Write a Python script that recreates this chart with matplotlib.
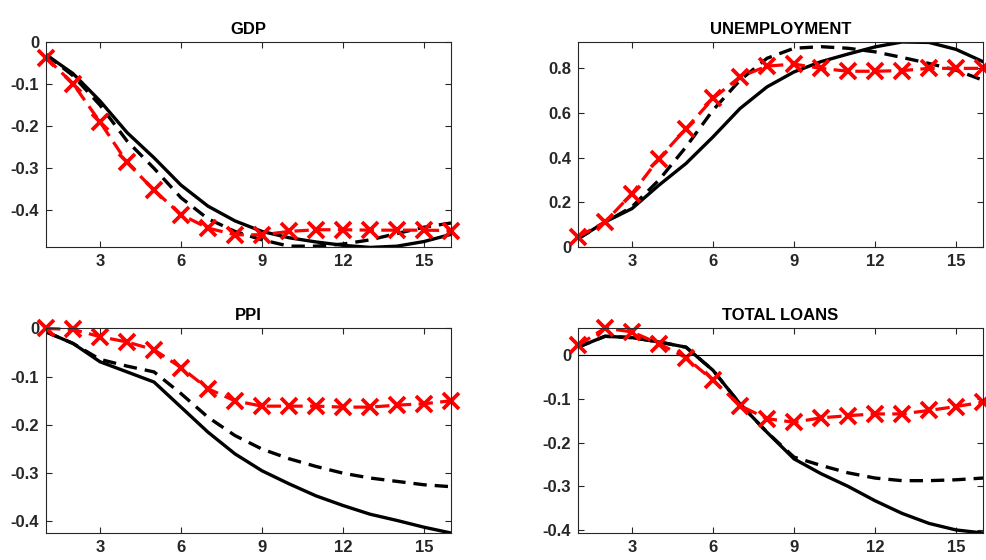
import numpy as np
import matplotlib
matplotlib.use("Agg")
import matplotlib.pyplot as plt

plt.rcParams["font.family"] = ["Liberation Sans", "DejaVu Sans"]
plt.rcParams["font.weight"] = "bold"

# horizonte (trimestres)
horizon = np.arange(1, 17)

titles = ["GDP", "UNEMPLOYMENT", "PPI", "TOTAL LOANS"]

# linha preta continua
gdp_solid = [-0.03, -0.075, -0.14, -0.215, -0.275, -0.34, -0.39, -0.425, -0.45, -0.465,
             -0.475, -0.483, -0.488, -0.485, -0.474, -0.457]
unemp_solid = [0.037, 0.112, 0.172, 0.277, 0.374, 0.493, 0.62, 0.717, 0.784, 0.83,
               0.864, 0.896, 0.918, 0.916, 0.885, 0.83]
ppi_solid = [-0.007, -0.031, -0.069, -0.09, -0.111, -0.163, -0.215, -0.26, -0.295, -0.322,
             -0.347, -0.367, -0.385, -0.398, -0.412, -0.424]
loans_solid = [0.019, 0.044, 0.041, 0.031, 0.019, -0.034, -0.111, -0.176, -0.237, -0.271,
               -0.3, -0.333, -0.362, -0.385, -0.4, -0.407]

# linha preta tracejada
gdp_dash = [-0.03, -0.08, -0.15, -0.235, -0.3, -0.37, -0.42, -0.45, -0.47, -0.485,
            -0.485, -0.48, -0.47, -0.455, -0.44, -0.43]
unemp_dash = [0.037, 0.11, 0.18, 0.3, 0.448, 0.613, 0.747, 0.845, 0.89, 0.897,
              0.89, 0.874, 0.849, 0.822, 0.792, 0.747]
ppi_dash = [-0.007, -0.031, -0.064, -0.078, -0.09, -0.135, -0.184, -0.222, -0.25, -0.27,
            -0.286, -0.3, -0.31, -0.317, -0.324, -0.328]
loans_dash = [0.019, 0.044, 0.041, 0.031, 0.019, -0.034, -0.111, -0.176, -0.233, -0.252,
              -0.269, -0.281, -0.287, -0.287, -0.285, -0.281]

# linha vermelha com marcadores x
gdp_red = [-0.037, -0.099, -0.19, -0.286, -0.352, -0.41, -0.442, -0.458, -0.458, -0.45,
           -0.446, -0.446, -0.447, -0.447, -0.447, -0.448]
unemp_red = [0.045, 0.112, 0.239, 0.396, 0.53, 0.665, 0.762, 0.81, 0.819, 0.8,
             0.787, 0.787, 0.79, 0.8, 0.8, 0.8]
ppi_red = [0.0, -0.002, -0.017, -0.028, -0.044, -0.081, -0.125, -0.15, -0.161, -0.161,
           -0.161, -0.163, -0.163, -0.159, -0.156, -0.15]
loans_red = [0.023, 0.063, 0.054, 0.027, -0.005, -0.057, -0.115, -0.145, -0.153, -0.143,
             -0.138, -0.134, -0.134, -0.126, -0.117, -0.107]

solid = [gdp_solid, unemp_solid, ppi_solid, loans_solid]
dashed = [gdp_dash, unemp_dash, ppi_dash, loans_dash]
red = [gdp_red, unemp_red, ppi_red, loans_red]

ylims = [(-0.487, 0.0), (0.0, 0.918), (-0.424, 0.001), (-0.407, 0.063)]
yticks = [[-0.4, -0.3, -0.2, -0.1, 0], [0, 0.2, 0.4, 0.6, 0.8],
          [-0.4, -0.3, -0.2, -0.1, 0], [-0.4, -0.3, -0.2, -0.1, 0]]

fig = plt.figure(figsize=(9.87, 5.6), dpi=100)
W, H = 987, 560
boxes = [(46, 42), (578, 42), (46, 328), (578, 328)]
aw, ah = 405, 205

cinza = "#262626"
for i in range(4):
    x0, y0 = boxes[i]
    ax = fig.add_axes([x0 / W, 1 - (y0 + ah) / H, aw / W, ah / H])
    ax.plot(horizon, dashed[i], color="black", lw=2.4, dashes=(4.0, 2.4))
    ax.plot(horizon, solid[i], color="black", lw=2.4)
    ax.plot(horizon, red[i], color="red", lw=2.3, dashes=(4.5, 2.3),
            marker="x", markersize=11, markeredgewidth=2.7, clip_on=False)
    if i == 3:
        ax.axhline(0, color="black", lw=0.8)
    ax.set_xlim(1, 16)
    ax.set_ylim(*ylims[i])
    ax.set_xticks([3, 6, 9, 12, 15])
    ax.set_yticks(yticks[i])
    ax.set_yticklabels(["%g" % v for v in yticks[i]])
    ax.tick_params(direction="in", top=True, right=True, length=4, width=0.8,
                   colors=cinza, labelsize=12, pad=5)
    for lab in ax.get_xticklabels() + ax.get_yticklabels():
        lab.set_fontweight("bold")
    for s in ax.spines.values():
        s.set_color(cinza)
        s.set_linewidth(0.8)
    ax.set_title(titles[i], fontsize=12, fontweight="bold", pad=6)

fig.savefig("out.png", dpi=100)
